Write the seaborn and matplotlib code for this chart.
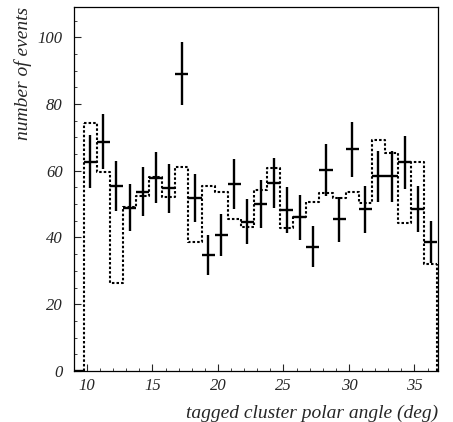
import numpy as np
import pandas as pd
import matplotlib
matplotlib.use('Agg')
import matplotlib.pyplot as plt
import seaborn as sns
from matplotlib.ticker import MultipleLocator

# bin centres (deg) of the measured distribution
data_angle = [9.25, 10.25, 11.25, 12.25, 13.25, 14.25, 15.25, 16.25, 17.25,
              18.25, 19.25, 20.25, 21.25, 22.25, 23.25, 24.25, 25.25, 26.25,
              27.25, 28.25, 29.25, 30.25, 31.25, 32.25, 33.25, 34.25, 35.25,
              36.25]
data_counts = [0, 62.7, 68.7, 55.5, 48.9, 53.7, 57.9, 54.7, 89.0, 51.7, 34.7,
               40.7, 56.0, 44.7, 50.0, 56.2, 48.2, 46.0, 37.2, 60.2, 45.4,
               66.4, 48.4, 58.4, 58.4, 62.5, 48.5, 38.6]

# simulated expectation (dotted histogram)
mc_angle = [10.25, 11.25, 12.25, 13.25, 14.25, 15.25, 16.25, 17.25, 18.25,
            19.25, 20.25, 21.25, 22.25, 23.25, 24.25, 25.25, 26.25, 27.25,
            28.25, 29.25, 30.25, 31.25, 32.25, 33.25, 34.25, 35.25, 36.25]
mc_counts = [74.3, 59.7, 26.4, 49.2, 52.5, 58.0, 52.0, 61.2, 38.7, 55.4, 53.7,
             45.4, 43.2, 54.2, 60.7, 42.7, 46.2, 50.7, 53.2, 51.7, 53.7, 50.2,
             69.2, 65.4, 44.4, 62.7, 32.0]

data_df = pd.DataFrame({'angle': data_angle, 'n': data_counts})
mc_df = pd.DataFrame({'angle': mc_angle, 'n': mc_counts})

sns.set_style('white')
plt.rcParams['font.family'] = ['Liberation Serif', 'DejaVu Serif']
plt.rcParams['font.style'] = 'italic'

fig = plt.figure(figsize=(4.53, 4.22), dpi=100)
ax = fig.add_axes([0.163, 0.121, 0.804, 0.862])

# dotted MC histogram
edges = [a - 0.5 for a in mc_angle] + [mc_angle[-1] + 0.5]
dots = (0, (1.2, 1.0))
sns.histplot(data=mc_df, x='angle', weights='n', bins=edges, element='step',
             fill=False, color='black', linestyle=dots, lw=1.5, ax=ax)
ax.vlines([edges[0], edges[-1]], 0, [mc_counts[0], mc_counts[-1]],
          color='black', linestyle=dots, lw=1.5)

# data points with statistical errors
ax.errorbar(data_df['angle'], data_df['n'], yerr=np.sqrt(data_df['n']), xerr=0.5,
            fmt='none', ecolor='black', elinewidth=1.7, capsize=0)

ax.set_xlim(9.0, 36.8)
ax.set_ylim(0, 109)
ax.xaxis.set_major_locator(MultipleLocator(5))
ax.xaxis.set_minor_locator(MultipleLocator(1))
ax.yaxis.set_major_locator(MultipleLocator(20))
ax.yaxis.set_minor_locator(MultipleLocator(5))
ax.tick_params(which='both', direction='in', bottom=True, left=True,
               labelsize=12)
ax.tick_params(axis='y', pad=8)
ax.tick_params(axis='x', pad=5)
ax.tick_params(which='major', length=5, width=0.8)
ax.tick_params(which='minor', length=2.5, width=0.6)
for s in ax.spines.values():
    s.set_linewidth(0.9)
    s.set_color('black')

ax.set_xlabel('tagged cluster polar angle (deg)', fontsize=14, loc='right',
              labelpad=8)
ax.set_ylabel('number of events', fontsize=14, loc='top', labelpad=4)

fig.savefig('out.png', dpi=100)
